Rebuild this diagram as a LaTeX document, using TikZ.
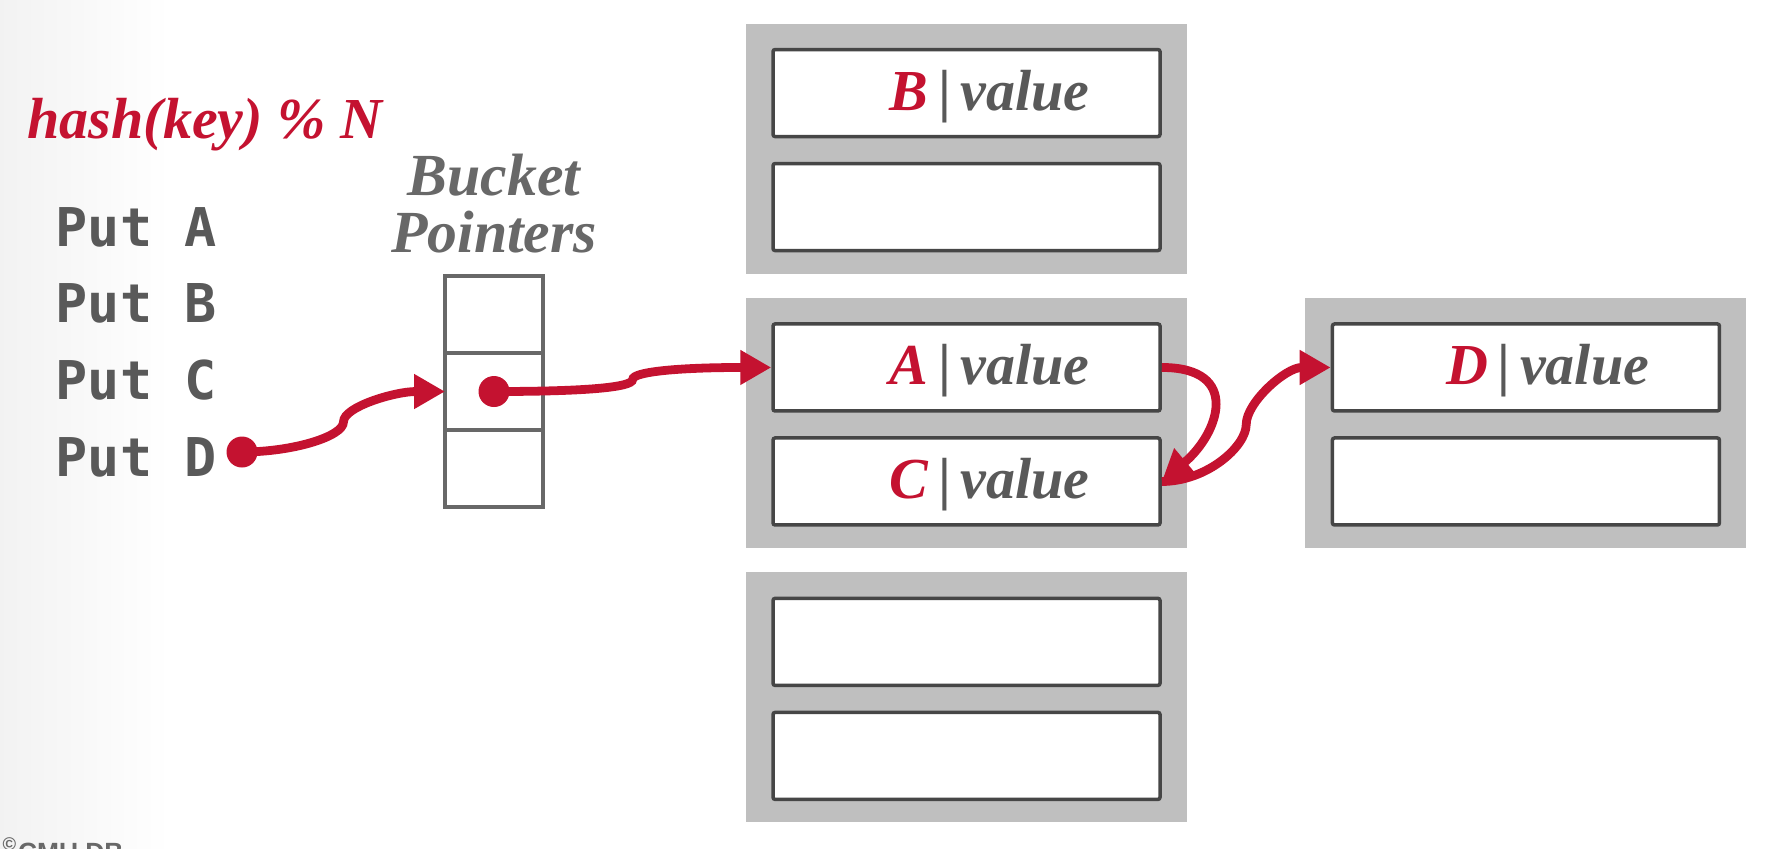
\documentclass[tikz,border=0pt]{standalone}
\usepackage{fontspec}
\setmainfont{Liberation Serif}
\newfontfamily\putfont{DejaVu Sans Mono}
\newfontfamily\notefont{Liberation Sans}
\usetikzlibrary{positioning,calc,arrows.meta}

\definecolor{cmured}{HTML}{C41230}
\definecolor{blockgray}{HTML}{BFBFBF}
\definecolor{slotline}{HTML}{464646}
\definecolor{ptrline}{HTML}{686868}
\definecolor{txtgray}{HTML}{595959}

\newcommand\keyltr[1]{\textcolor{cmured}{#1}}

\tikzset{
  block/.style={fill=blockgray, minimum width=4.41cm, minimum height=2.50cm, inner sep=0pt},
  slot/.style={draw=slotline, fill=white, line width=1pt, rounded corners=0.6pt,
    minimum width=3.87cm, minimum height=0.87cm, inner sep=0pt},
  cell/.style={draw=ptrline, line width=1.2pt, minimum width=0.98cm, minimum height=0.77cm,
    inner sep=0pt, outer sep=0pt},
  entry/.style={anchor=base east, inner sep=0pt, text=txtgray,
    font=\bfseries\itshape\fontsize{16.5}{18}\selectfont},
  put/.style={anchor=base west, inner sep=0pt, text=txtgray,
    font=\putfont\bfseries\fontsize{15.2}{18}\selectfont},
  dot/.style={circle, fill=cmured, minimum size=0.31cm, inner sep=0pt},
  link/.style={draw=cmured, line width=2.5pt, -{Triangle[length=0.31cm,width=0.33cm]}},
}

\begin{document}
\begin{tikzpicture}
\useasboundingbox (0,0) rectangle (17.68,-8.48);
% page background
\fill[white] (0,0) rectangle (17.68,-8.48);
\shade[left color=black!5, right color=white] (0,0) rectangle (1.7,-8.48);

% left side
\node[anchor=base west, inner sep=0pt, text=cmured,
  font=\bfseries\itshape\fontsize{16.5}{18}\selectfont] (hashfn) at (0.27,-1.38) {hash(key) \% N};
\foreach \k [count=\i] in {A,B,C,D}
  \node[put] (put\k) at (0.55,{-2.46-0.769*(\i-1)}) {Put \k};
\node[dot] (dotD) at (2.42,-4.52) {};

% bucket pointers
\node[cell] (c1) at (4.94,-3.145) {};
\node[cell, below=0cm of c1] (c2) {};
\node[cell, below=0cm of c2] (c3) {};
\node[anchor=north, inner sep=0pt, align=center, text=ptrline,
  font=\bfseries\itshape\fontsize{17}{16.4}\selectfont] (ptrlbl) at (4.94,-1.53) {Bucket\\Pointers};
\node[dot] (ptr) at (c2) {};

% bucket pages
\node[block] (blk1) at (9.665,-1.485) {};
\node[block, below=0.23cm of blk1] (blk2) {};
\node[block, below=0.23cm of blk2] (blk3) {};
\node[block, right=1.17cm of blk2] (blk4) {};
\foreach \b in {1,2,3,4} {
  \node[slot, below=0.25cm of blk\b.north] (s\b a) {};
  \node[slot, below=0.235cm of s\b a] (s\b b) {};
}

% entries
\node[entry] (eB) at ([xshift=3.19cm,yshift=-0.175cm]s1a.west) {\keyltr{B}\,{\upshape|}\,value};
\node[entry] (eA) at ([xshift=3.19cm,yshift=-0.175cm]s2a.west) {\keyltr{A}\,{\upshape|}\,value};
\node[entry] (eC) at ([xshift=3.19cm,yshift=-0.175cm]s2b.west) {\keyltr{C}\,{\upshape|}\,value};
\node[entry] (eD) at ([xshift=3.19cm,yshift=-0.175cm]s4a.west) {\keyltr{D}\,{\upshape|}\,value};

% links
\coordinate (k1) at ($(dotD)!0.5!(c2.west)$);
\coordinate (k2) at ($(ptr)!0.5!(s2a.west)$);
\coordinate (k4) at ($(s2b.east)!0.5!(s4a.west)$);
\draw[link] (dotD.center) to[out=0,in=-90,out distance=0.5cm,in distance=0.15cm] (k1)
  to[out=90,in=180,out distance=0.15cm,in distance=0.5cm] (c2.west);
\draw[link] (ptr.center) to[out=0,in=-90,out distance=0.9cm,in distance=0.08cm] (k2)
  to[out=90,in=180,out distance=0.08cm,in distance=0.9cm] (s2a.west);
\draw[link] (s2a.east) to[out=0,in=40,out distance=0.8cm,in distance=0.75cm] (s2b.east);
\draw[link] (s2b.east) to[out=0,in=-90,out distance=0.45cm,in distance=0.22cm] (k4)
  to[out=90,in=180,out distance=0.22cm,in distance=0.45cm] (s4a.west);

% footer, cut by the page edge
\node[anchor=base west, inner sep=0pt, text=ptrline,
  font=\notefont\bfseries\fontsize{7.5}{9}\selectfont] (footer) at (0.02,-8.61) {\textsuperscript{©}CMU DB};
\end{tikzpicture}
\end{document}
